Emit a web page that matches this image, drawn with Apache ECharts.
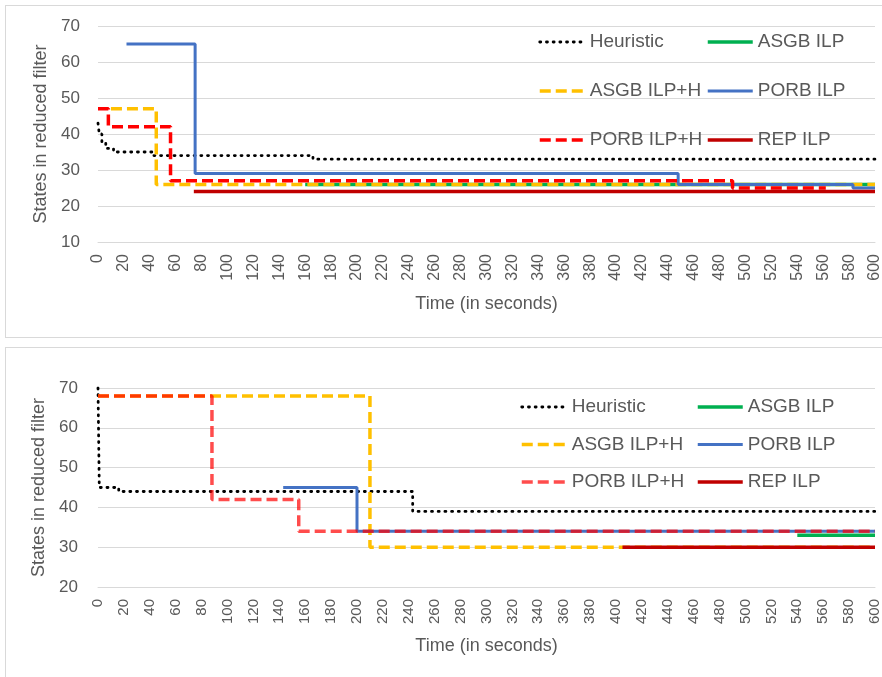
<!DOCTYPE html>
<html>
<head>
<meta charset="utf-8">
<script src="https://cdn.jsdelivr.net/npm/echarts@6/dist/echarts.min.js"></script>
<style>
  html, body { margin: 0; padding: 0; background: #fff; overflow: hidden; }
  .chart { position: absolute; left: 5px; width: 888px; border: 1px solid #d9d9d9; }
  #top { top: 5px; height: 331px; }
  #bottom { top: 347px; height: 330px; }
</style>
</head>
<body>
<div id="top" class="chart"></div>
<div id="bottom" class="chart"></div>
<script>
// series names, same in both charts
const names = ['Heuristic', 'ASGB ILP', 'ASGB ILP+H', 'PORB ILP', 'PORB ILP+H', 'REP ILP'];

// top chart: [time, states], value holds until next point
const topHeuristic = [[0, 43], [1, 40], [3, 37.5], [6, 36], [12, 35], [43, 34], [166, 33], [600, 33]];
const topAsgbIlp = [[160, 26], [600, 26]];
const topAsgbIlpH = [[10, 47], [45, 26], [600, 26]];
const topPorbIlp = [[22, 65], [75, 29], [448, 26], [583, 25], [600, 25]];
const topPorbIlpH = [[0, 47], [8, 42], [56, 27], [490, 25], [562, 25]];
const topRepIlp = [[74, 24], [600, 24]];

// bottom chart
const botHeuristic = [[0, 70], [1, 45], [16, 44], [243, 39], [600, 39]];
const botAsgbIlp = [[540, 33], [600, 33]];
const botAsgbIlpH = [[0, 68], [210, 30], [600, 30]];
const botPorbIlp = [[143, 45], [200, 34], [600, 34]];
const botPorbIlpH = [[0, 68], [88, 42], [155, 34], [600, 34]];
const botRepIlp = [[405, 30], [600, 30]];

const txt = '#595959';
const font = '"Liberation Sans", Arial, sans-serif';

function lineStyles(redOpacity) {
    return [
        { color: '#000', width: 2.8, type: [1, 5.7], cap: 'round' },
        { color: '#00b050', width: 3.5 },
        { color: '#ffc000', width: 3.5, type: [11, 5] },
        { color: '#4472c4', width: 3 },
        { color: '#ff0000', width: 3.5, type: [11, 5], opacity: redOpacity },
        { color: '#c00000', width: 3.5 }
    ];
}

function buildOption(data, cfg) {
    const styles = lineStyles(cfg.redOpacity);
    const series = data.map(function (d, i) {
        return {
            name: names[i],
            type: 'line',
            step: 'end',
            symbol: 'none',
            data: d,
            color: styles[i].color,
            lineStyle: styles[i],
            emphasis: { disabled: true }
        };
    });
    function legendItems(idx) {
        return idx.map(function (i) {
            return { name: names[i], lineStyle: styles[i] };
        });
    }
    const legendBase = {
        orient: 'vertical',
        itemWidth: 45,
        itemHeight: 20,
        itemGap: cfg.legendGap,
        itemStyle: { opacity: 0 },
        textStyle: { color: txt, fontSize: 19, fontFamily: font, lineHeight: 20 },
        selectedMode: false
    };
    return {
        animation: false,
        textStyle: { fontFamily: font },
        grid: { left: 92, top: cfg.gridTop, width: 777, height: cfg.gridHeight },
        legend: [
            Object.assign({}, legendBase, { left: cfg.legendX[0], top: cfg.legendTop, data: legendItems([0, 2, 4]) }),
            Object.assign({}, legendBase, { left: cfg.legendX[1], top: cfg.legendTop, data: legendItems([1, 3, 5]) })
        ],
        xAxis: {
            type: 'value',
            min: 0,
            max: 600,
            interval: 20,
            name: 'Time (in seconds)',
            nameLocation: 'middle',
            nameGap: cfg.xNameGap,
            nameTextStyle: { color: txt, fontSize: 18 },
            axisLine: { show: true, lineStyle: { color: '#d9d9d9' } },
            axisTick: { show: false },
            splitLine: { show: false },
            axisLabel: { rotate: 90, color: txt, fontSize: cfg.tickSize, margin: 12 }
        },
        yAxis: {
            type: 'value',
            min: cfg.yMin,
            max: 70,
            interval: 10,
            name: 'States in reduced filter',
            nameLocation: 'middle',
            nameGap: cfg.yNameGap,
            nameTextStyle: { color: txt, fontSize: 18 },
            axisLine: { show: false },
            axisTick: { show: false },
            splitLine: { lineStyle: { color: '#d9d9d9', width: 1.2 } },
            axisLabel: { color: txt, fontSize: 17, margin: cfg.yLabelMargin }
        },
        series: series
    };
}

const topChart = echarts.init(document.getElementById('top'));
topChart.setOption(buildOption(
    [topHeuristic, topAsgbIlp, topAsgbIlpH, topPorbIlp, topPorbIlpH, topRepIlp],
    { gridTop: 20, gridHeight: 216, yMin: 10, legendTop: 21, legendGap: 29,
      legendX: [527, 695], xNameGap: 53, yNameGap: 46, yLabelMargin: 18,
      tickSize: 16, redOpacity: 1 }
));

const botChart = echarts.init(document.getElementById('bottom'));
botChart.setOption(buildOption(
    [botHeuristic, botAsgbIlp, botAsgbIlpH, botPorbIlp, botPorbIlpH, botRepIlp],
    { gridTop: 40, gridHeight: 199, yMin: 20, legendTop: 44, legendGap: 17.5,
      legendX: [509, 685], xNameGap: 50, yNameGap: 48, yLabelMargin: 20,
      tickSize: 15, redOpacity: 0.7 }
));
</script>
</body>
</html>
